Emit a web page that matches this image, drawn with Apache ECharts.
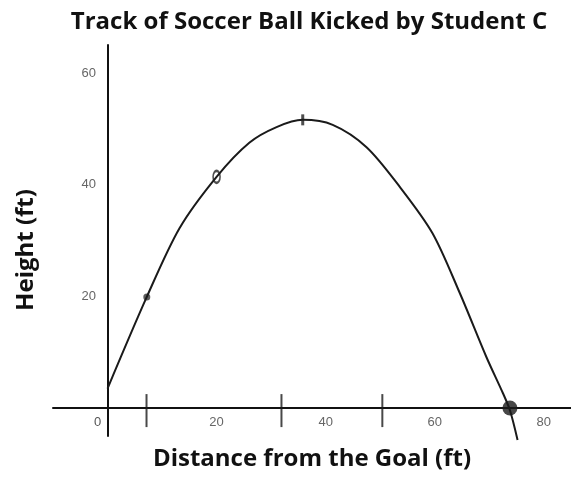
<!DOCTYPE html>
<html>
<head>
<meta charset="utf-8">
<script src="https://cdn.jsdelivr.net/npm/echarts@6/dist/echarts.min.js"></script>
<style>
html,body{margin:0;padding:0;background:#fff;}
#chart{width:571px;height:478px;}
</style>
</head>
<body>
<div id="chart"></div>
<script>
// Distance (ft) and height (ft) of the drawn trajectory
var pathX = [0, 7.2, 13.2, 20, 26, 31, 35.8, 41.3, 47.5, 53.6, 59.6, 64.6, 69.5, 72.5, 73.8, 75.2];
var pathY = [3.5, 19.9, 32.2, 41.4, 47.5, 50.3, 51.6, 50.7, 46.7, 39.6, 31.3, 20.6, 9.1, 2.7, -0.4, -5.7];
// Hand-drawn marks on the curve
var markSmallX = [7.2];  var markSmallY = [19.9];
var markOvalX = [20];    var markOvalY = [41.4];
var markTX = [35.8];     var markTY = [51.6];
var landX = [73.8];      var landY = [0];
// Hand-drawn ticks on the distance axis
var handTickX = [7.15, 31.9, 50.4];
// Axis tick labels
var xTickLabels = [0, 20, 40, 60, 80];
var yTickLabels = [20, 40, 60];

function zip(a, b) { return a.map(function (v, i) { return [v, b[i]]; }); }

var nameFont = { fontFamily: 'Open Sans', fontWeight: 'bold', fontSize: 24, color: '#111' };

var chart = echarts.init(document.getElementById('chart'));
chart.setOption({
  animation: false,
  title: {
    text: 'Track of Soccer Ball Kicked by Student C',
    left: 304, top: 5, textAlign: 'center',
    textStyle: nameFont
  },
  graphic: [{
    type: 'text', x: 26, y: 250, rotation: Math.PI / 2,
    style: {
      text: 'Height (ft)', fill: '#111', font: 'bold 24px "Open Sans"',
      textAlign: 'center', textVerticalAlign: 'middle'
    }
  }],
  grid: { left: 53, right: 0, top: 45, bottom: 42, containLabel: false, outerBoundsMode: 'none' },
  xAxis: {
    type: 'value', min: -10, max: 85, interval: 10,
    axisLine: { onZero: true, lineStyle: { color: '#111', width: 2 } },
    axisTick: { show: false },
    splitLine: { show: false },
    axisLabel: {
      margin: -20, color: '#666', fontFamily: 'Liberation Sans', fontSize: 13,
      showMinLabel: false, showMaxLabel: false,
      formatter: function (v) {
        if (v === 0) return '{z|0}';
        return xTickLabels.indexOf(v) >= 0 ? String(v) : '';
      },
      rich: { z: { color: '#555', fontFamily: 'Liberation Sans', fontSize: 13, padding: [0, 20, 0, 0] } }
    },
    name: 'Distance from the Goal (ft)', nameLocation: 'middle', nameGap: 11,
    nameTextStyle: nameFont
  },
  yAxis: {
    type: 'value', min: -5, max: 65, interval: 5,
    axisLine: { onZero: true, lineStyle: { color: '#111', width: 2 } },
    axisTick: { show: false },
    splitLine: { show: false },
    axisLabel: {
      margin: -43, color: '#666', fontFamily: 'Liberation Sans', fontSize: 13,
      showMinLabel: false, showMaxLabel: false,
      formatter: function (v) { return yTickLabels.indexOf(v) >= 0 ? String(v) : ''; }
    }
  },
  series: [
    {
      type: 'line', data: zip(pathX, pathY), smooth: 0.3, clip: false,
      symbol: 'none', lineStyle: { color: '#1a1a1a', width: 2 }
    },
    {
      type: 'scatter', data: handTickX.map(function (v) { return [v, -0.45]; }), clip: false,
      symbol: 'rect', symbolSize: [2, 33], itemStyle: { color: '#1a1a1a' }
    },
    {
      type: 'scatter', data: zip(markSmallX, markSmallY),
      symbol: 'circle', symbolSize: 7, itemStyle: { color: '#333' }
    },
    {
      type: 'scatter', data: zip(markOvalX, markOvalY),
      symbol: 'emptyCircle', symbolSize: [7, 12],
      itemStyle: { color: '#222', borderColor: '#222', borderWidth: 2 }
    },
    {
      type: 'scatter', data: zip(markTX, markTY),
      symbol: 'rect', symbolSize: [3, 11], itemStyle: { color: '#222' }
    },
    {
      type: 'scatter', data: zip(landX, landY), clip: false,
      symbol: 'circle', symbolSize: 15, itemStyle: { color: '#1a1a1a' }
    }
  ]
});
</script>
</body>
</html>
